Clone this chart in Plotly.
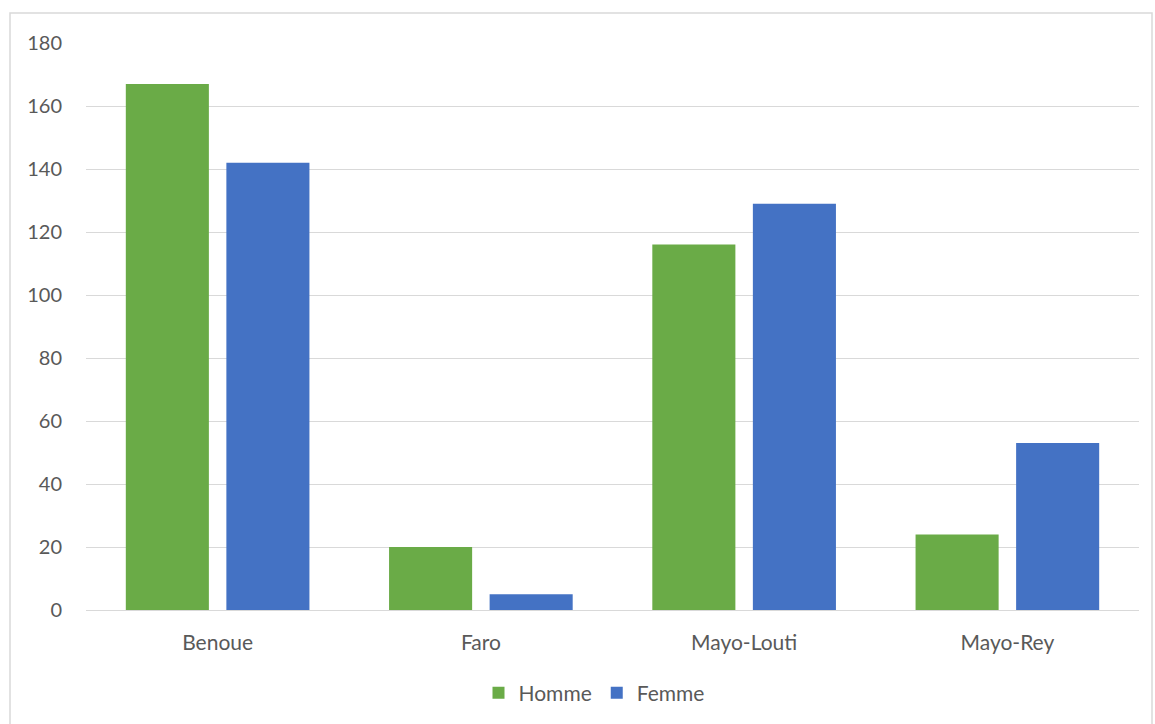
import plotly.graph_objects as go

categories = ["Benoue", "Faro", "Mayo-Louti", "Mayo-Rey"]
homme = [167, 20, 116, 24]
femme = [142, 5, 129, 53]
y_ticks = [0, 20, 40, 60, 80, 100, 120, 140, 160, 180]

W, H = 1155, 724
L, R, T, B = 86, 16, 43, 114
pw, ph = W - L - R, H - T - B

def px(x):
    return (x - L) / pw

def py(y):
    return (H - B - y) / ph

font = "Lato, 'Open Sans', sans-serif"
txt = "#595959"

fig = go.Figure()
fig.add_trace(go.Bar(name="Homme", x=categories, y=homme, marker=dict(color="#6aab47", line=dict(width=0))))
fig.add_trace(go.Bar(name="Femme", x=categories, y=femme, marker=dict(color="#4472c4", line=dict(width=0))))

fig.update_layout(
    width=W, height=H,
    margin=dict(l=L, r=R, t=T, b=B, autoexpand=False),
    paper_bgcolor="white", plot_bgcolor="white",
    barmode="group", bargap=0.236, bargroupgap=0.174,
    font=dict(family=font, size=21, color=txt),
    showlegend=True,
    legend=dict(orientation="h", x=px(594), xanchor="center", y=py(693), yanchor="middle",
                font=dict(size=21, color=txt), itemwidth=30, traceorder="normal"),
    shapes=[dict(type="rect", xref="paper", yref="paper",
                 x0=px(10), x1=px(1152), y0=py(740), y1=py(13),
                 line=dict(color="#d9d9d9", width=1.5), fillcolor="rgba(0,0,0,0)", layer="below")],
)
fig.update_yaxes(range=[0, 180], tickvals=y_ticks, showgrid=True, gridcolor="#d9d9d9", gridwidth=1,
                 zeroline=False, showline=False, ticklabelstandoff=23,
                 tickfont=dict(size=20, color=txt))
fig.update_xaxes(showline=True, linecolor="#d9d9d9", linewidth=1, showgrid=False,
                 ticklabelstandoff=14, tickfont=dict(size=21, color=txt))

fig.write_html("out.html", config={"displayModeBar": False},
               post_script="document.body.style.margin='0';document.body.style.overflow='hidden';")
